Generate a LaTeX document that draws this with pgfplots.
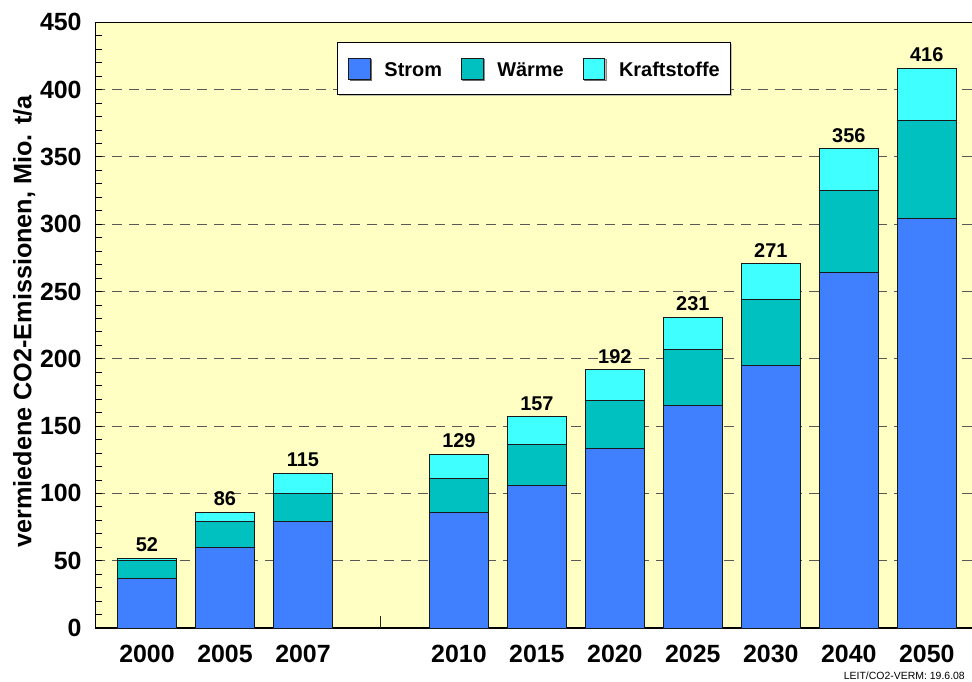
\documentclass[border=0pt]{standalone}
\usepackage{fontspec}
\setmainfont{Liberation Sans}
\usepackage{pgfplots}
\usepackage{pgfplotstable}
\pgfplotsset{compat=1.18}
\usetikzlibrary{shadows}

\definecolor{strom}{HTML}{4080FF}
\definecolor{waerme}{HTML}{00C0C0}
\definecolor{kraft}{HTML}{40FFFF}
\definecolor{bgyellow}{HTML}{FFFFC4}

% slot 3 stays empty (gap between 2007 and 2010)
\pgfplotstableread{
x  strom waerme kraft total
0  37  13  2   52
1  60  19  7   86
2  79  21  15  115
4  86  25  18  129
5  106 30  21  157
6  133 36  23  192
7  165 42  24  231
8  195 49  27  271
9  264 61  31  356
10 304 73  39  416
}\co

\pgfplotsset{frame/.style={scale only axis,
  width=876.7bp, height=605.7bp,
  xmin=-0.663, xmax=10.58,
  ymin=0, ymax=450, clip=false}}

\begin{document}
\begin{tikzpicture}
\begin{axis}[
  frame,
  ybar stacked,
  bar width=58.5bp,
  axis background/.style={fill=bgyellow},
  axis line style={draw=none},
  xtick={0,...,10},
  xticklabels={2000,2005,2007,{},2010,2015,2020,2025,2030,2040,2050},
  xtick style={draw=none},
  xticklabel style={anchor=base, inner sep=0pt, yshift=-34bp},
  ytick={0,50,...,450},
  minor y tick num=4,
  ytick pos=left,
  tick align=inside,
  major tick length=7bp, minor tick length=7bp,
  tick style={black, line width=0.8bp},
  yticklabel style={anchor=east, inner sep=0pt, xshift=-13.5bp},
  tick label style={font=\fontsize{25}{25}\selectfont\bfseries},
  /pgf/number format/assume math mode=true,
  ymajorgrids,
  major grid style={black!65, line width=0.9bp, dash pattern=on 10bp off 7bp},
  every axis plot/.append style={draw=black!90, line width=1bp},
  legend columns=3,
  legend image code/.code={\draw[#1, line width=0.8bp] (0bp,-2.6bp) rectangle (21.5bp,18.4bp);},
  legend style={at={(rel axis cs:0.5004,0.9237)}, anchor=center,
    draw=black, line width=0.8bp, fill=white,
    drop shadow={shadow xshift=1.5bp, shadow yshift=-1.5bp, fill=black!50},
    inner xsep=11bp, inner ysep=15bp,
    cells={anchor=base west}, nodes={inner sep=0pt},
    font=\fontsize{20}{20}\selectfont\bfseries,
    /tikz/every odd column/.style={column sep=14bp},
    /tikz/every even column/.style={column sep=19bp}},
]

\addplot[fill=strom] table[x=x, y=strom] {\co};
\addlegendentry{Strom}
\addplot[fill=waerme] table[x=x, y=waerme] {\co};
\addlegendentry{Wärme}
\addplot[fill=kraft] table[x=x, y=kraft] {\co};
\addlegendentry{Kraftstoffe}

% small tick marks at the bar centres, drawn over the bars
\pgfplotsinvokeforeach{0,...,10}{
  \draw[black!85, line width=0.9bp] (axis cs:#1,0) -- ++(0bp,12bp);
}

% frame without right edge
\draw[black, line width=1.2bp] (rel axis cs:1,1) -- (rel axis cs:0,1) -- (rel axis cs:0,0) -- (rel axis cs:1,0);

\node[rotate=90, anchor=base, inner sep=0pt, font=\fontsize{25.3}{25.3}\selectfont\bfseries]
  at ([xshift=-64bp]rel axis cs:0,0.506) {vermiedene CO2-Emissionen, Mio. t/a};
\node[anchor=base east, inner sep=0pt, font=\fontsize{10.5}{10.5}\selectfont]
  at ([xshift=-7bp, yshift=-51bp]rel axis cs:1,0) {LEIT/CO2-VERM: 19.6.08};

\coordinate (LL) at (rel axis cs:0,0);
\coordinate (UR) at (rel axis cs:1,1);
\end{axis}

% overlay axis with the same scale: totals above the bars
\begin{axis}[frame, hide axis]
\addplot[draw=none, mark=none, point meta=explicit, nodes near coords,
  every node near coord/.append style={anchor=south, inner sep=0pt, yshift=6bp,
    black, font=\fontsize{20}{20}\selectfont\bfseries},
  /pgf/number format/assume math mode=true]
  table[x=x, y=total, meta=total] {\co};
\end{axis}

\pgfresetboundingbox
\path ([shift={(-95.3bp,-54bp)}]LL) rectangle ([shift={(0bp,22.3bp)}]UR);
\end{tikzpicture}
\end{document}
